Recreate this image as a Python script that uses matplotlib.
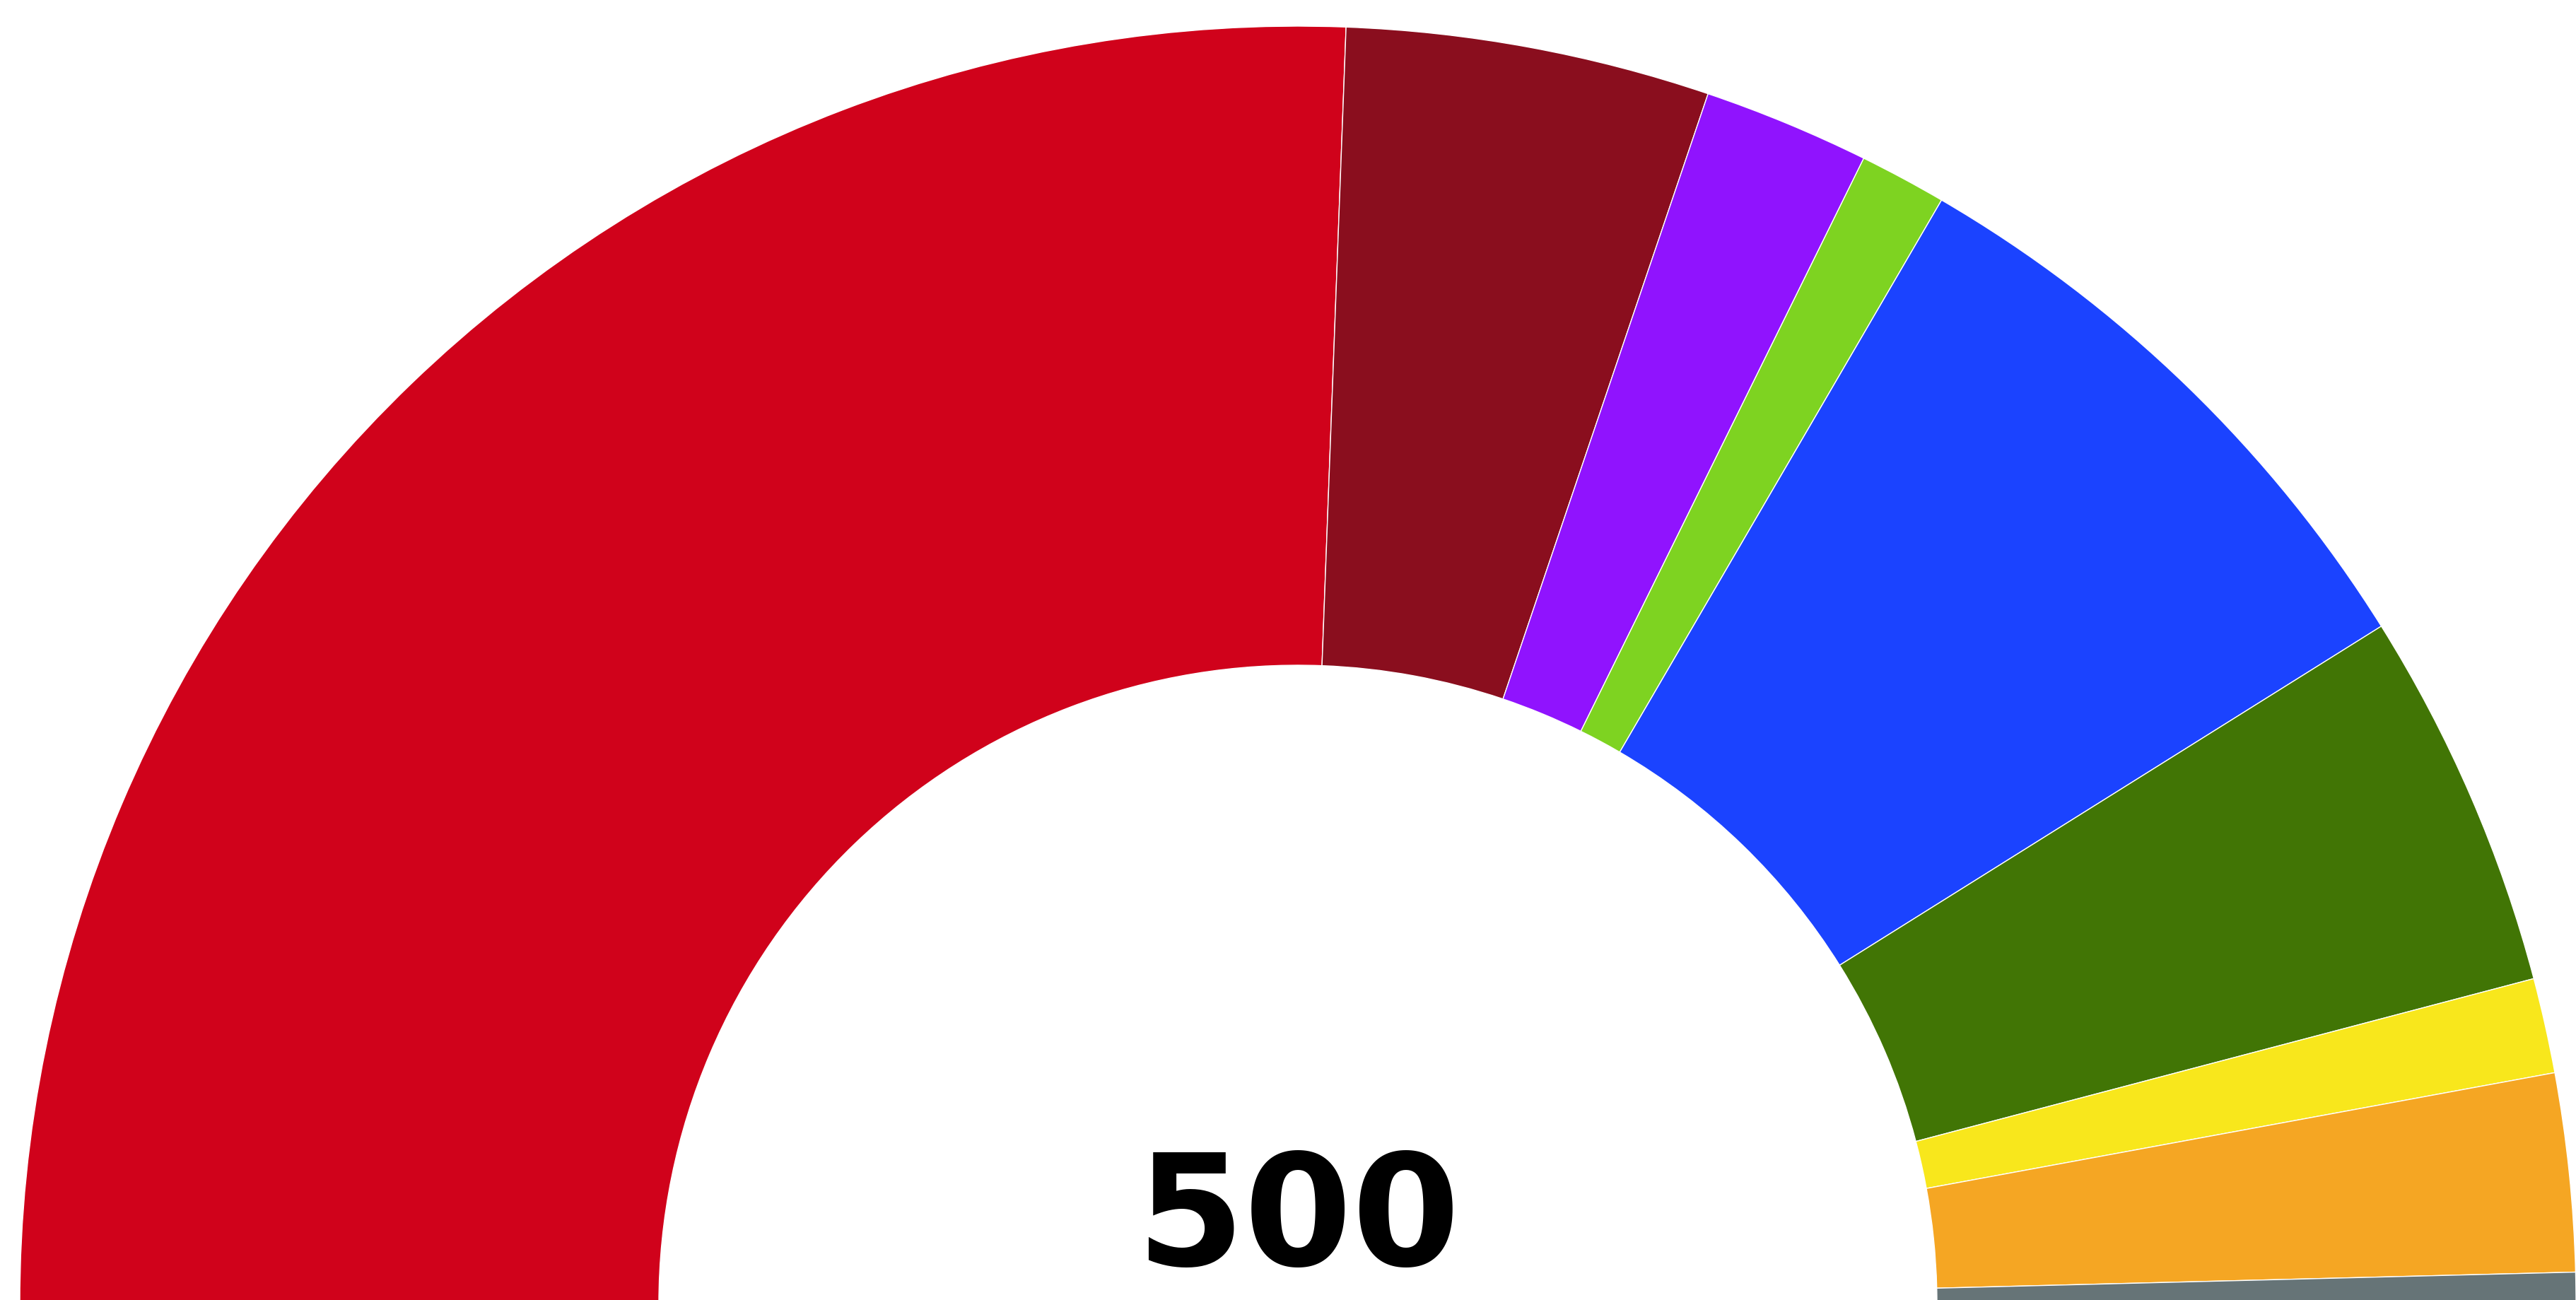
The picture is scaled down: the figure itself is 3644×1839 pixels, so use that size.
import matplotlib
matplotlib.use('Agg')
import matplotlib.pyplot as plt

# Seats per party (left to right around the hemicycle)
seats = [256, 46, 21, 11, 77, 48, 12, 25, 4]
colors = ['#D0021B', '#8A0E1E', '#9013FE', '#7ED321', '#1B43FF',
          '#417505', '#F8E71C', '#F5A623', '#667477']
total_label = str(sum(seats))

W, H = 3644, 1839
fig = plt.figure(figsize=(W / 100, H / 100), dpi=100)
ax = fig.add_axes([0, 0, 1, 1])

cx, cy = 1836, -6
R = 1808

wedges, _ = ax.pie(seats + [sum(seats)], colors=colors + ['white'],
                   startangle=180, counterclock=False, radius=R,
                   center=(cx, cy),
                   wedgeprops=dict(width=R / 2, edgecolor='white',
                                   linewidth=1.0))
wedges[-1].set_visible(False)

ax.set_xlim(0, W)
ax.set_ylim(0, H)
ax.set_aspect('equal')
ax.axis('off')

ax.text(cx, 3, total_label, ha='center', va='bottom', fontsize=158,
        fontweight='bold', family='DejaVu Sans', color='black')

fig.savefig('out.png', dpi=100, facecolor='white')
